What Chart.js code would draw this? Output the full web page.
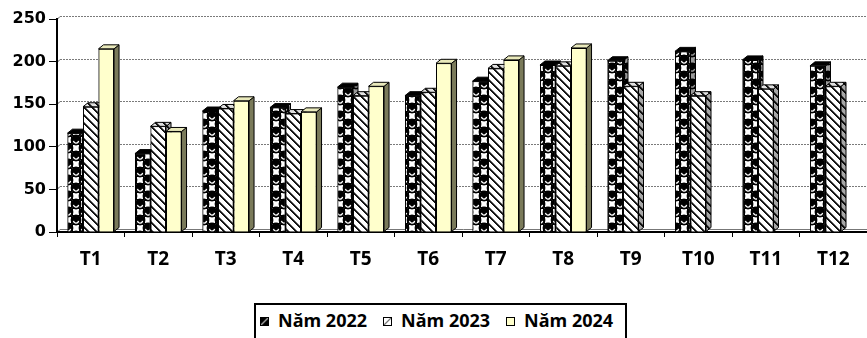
<!DOCTYPE html>
<html>
<head>
<meta charset="utf-8">
<script src="https://cdn.jsdelivr.net/npm/chart.js@4.4.1/dist/chart.umd.min.js"></script>
<style>
  html, body { margin: 0; padding: 0; background: #fff; overflow: hidden; }
  #wrap { position: relative; width: 867px; height: 338px; }
  #chart { position: absolute; left: 0; top: 0; }
  #legend {
    position: absolute; left: 254px; top: 303px; width: 373px; height: 60px;
    box-sizing: border-box; border: 2px solid #000; background: #fff;
    display: flex; align-items: flex-start; padding: 6px 0 0 4px;
    font: bold 18px "Open Sans", sans-serif; line-height: 19px; color: #000;
  }
  .item { display: flex; align-items: center; margin-right: 16px; white-space: nowrap; }
  .sw { width: 9px; height: 9px; box-sizing: border-box; border: 1px solid #000; margin-right: 9px; position: relative; top: 1px; }
  .sw22 { background: linear-gradient(135deg, #000 35%, #9a9a9a 50%, #000 65%); }
  .sw23 { background: linear-gradient(135deg, #fff 38%, #777 50%, #fff 62%); }
  .sw24 { background: #ffffcc; }
</style>
</head>
<body>
<div id="wrap">
  <canvas id="chart" width="867" height="338"></canvas>
  <div id="legend"></div>
</div>
<script>
// Monthly values (T1..T12) per year
const categories = ['T1', 'T2', 'T3', 'T4', 'T5', 'T6', 'T7', 'T8', 'T9', 'T10', 'T11', 'T12'];
const seriesNames = ['Năm 2022', 'Năm 2023', 'Năm 2024'];
const nam2022 = [116, 92, 142, 146, 170, 160, 177, 196, 201, 212, 202, 195];
const nam2023 = [147, 124, 145, 139, 160, 164, 192, 195, 171, 160, 168, 171];
const nam2024 = [215, 118, 154, 141, 171, 198, 202, 216, null, null, null, null];
const yTicks = [0, 50, 100, 150, 200, 250];

const YFONT = '"DejaVu Sans", sans-serif';
const XFONT = '"Open Sans", sans-serif';
const DX = 5, DY = 4; // depth offset of the column faces

// "sphere" fill: checker of black balls (with a white highlight) and white squares
function spherePattern() {
  const c = document.createElement('canvas');
  c.width = 16; c.height = 16;
  const g = c.getContext('2d');
  g.fillStyle = '#fff'; g.fillRect(0, 0, 16, 16);
  g.fillStyle = '#000';
  const centres = [[4, 4], [12, 12]];
  centres.forEach(([cx, cy]) => {
    for (let ox = -16; ox <= 16; ox += 16) {
      for (let oy = -16; oy <= 16; oy += 16) {
        g.beginPath(); g.arc(cx + ox, cy + oy, 5.4, 0, Math.PI * 2); g.fill();
      }
    }
  });
  g.strokeStyle = '#000'; g.lineWidth = 1;
  g.strokeRect(8.5, 0.5, 7, 7);
  g.strokeRect(0.5, 8.5, 7, 7);
  g.strokeStyle = '#fff'; g.lineWidth = 1.3;
  centres.forEach(([cx, cy]) => {
    g.beginPath(); g.arc(cx, cy + 0.5, 2.6, Math.PI * 0.05, Math.PI * 0.95); g.stroke();
  });
  return c;
}

// diagonal "\" stripes
function stripePattern() {
  const c = document.createElement('canvas');
  c.width = 8; c.height = 8;
  const g = c.getContext('2d');
  const img = g.createImageData(8, 8);
  for (let y = 0; y < 8; y++) {
    for (let x = 0; x < 8; x++) {
      const k = ((x - y) % 8 + 8) % 8;
      const v = (k === 0 || k === 1) ? 20 : (k === 2 ? 120 : 255);
      const p = (y * 8 + x) * 4;
      img.data[p] = img.data[p + 1] = img.data[p + 2] = v;
      img.data[p + 3] = 255;
    }
  }
  g.putImageData(img, 0, 0);
  return c;
}

const canvas = document.getElementById('chart');
const ctx = canvas.getContext('2d');
const fill2022 = ctx.createPattern(spherePattern(), 'repeat');
const fill2023 = ctx.createPattern(stripePattern(), 'repeat');
const fill2024 = '#ffffcc';

// face styles: [fill, shade overlay] for top and side
const faceStyles = [
  { top: ['#000', null], side: [fill2022, 'rgba(0,0,0,0.4)'] },
  { top: [fill2023, 'rgba(0,0,0,0.12)'], side: [fill2023, 'rgba(0,0,0,0.35)'] },
  { top: ['#e9e9bb', null], side: ['#7a7a5a', null] }
];

function paintFace(c, pts, style) {
  c.beginPath();
  c.moveTo(pts[0][0], pts[0][1]);
  for (let i = 1; i < pts.length; i++) c.lineTo(pts[i][0], pts[i][1]);
  c.closePath();
  c.fillStyle = style[0]; c.fill();
  if (style[1]) { c.fillStyle = style[1]; c.fill(); }
  c.lineWidth = 1; c.strokeStyle = '#000'; c.stroke();
}

// back wall gridlines and floor edge, drawn behind everything else
const backWall = {
  id: 'backWall',
  beforeDraw(chart) {
    const c = chart.ctx, y = chart.scales.y, area = chart.chartArea;
    if (!y || !area) return;
    c.save();
    yTicks.forEach(v => {
      const yf = Math.round(y.getPixelForValue(v)) + 0.5;
      const yb = yf - 3;
      c.setLineDash([]);
      c.strokeStyle = '#555'; c.lineWidth = 1;
      c.beginPath(); c.moveTo(area.left, yf); c.lineTo(area.left + 3, yb); c.stroke();
      if (v === 0) {
        c.strokeStyle = '#777';
        c.beginPath(); c.moveTo(area.left + 3, yb); c.lineTo(chart.width, yb); c.stroke();
      } else {
        c.strokeStyle = '#7a7a7a';
        c.setLineDash([2, 1]);
        c.beginPath(); c.moveTo(area.left + 3, yb); c.lineTo(chart.width, yb); c.stroke();
      }
    });
    c.restore();
  }
};

// side and top faces of every column, painted left to right
const columnFaces = {
  id: 'columnFaces',
  afterDatasetsDraw(chart) {
    const c = chart.ctx;
    c.save();
    for (let i = 0; i < categories.length; i++) {
      chart.data.datasets.forEach((ds, d) => {
        if (ds.data[i] == null) return;
        const bar = chart.getDatasetMeta(d).data[i];
        bar.draw(c);
        const { x, y, base, width } = bar.getProps(['x', 'y', 'base', 'width'], true);
        const L = x - width / 2, R = x + width / 2;
        paintFace(c, [[R, y], [R + DX, y - DY], [R + DX, base - DY], [R, base]], faceStyles[d].side);
        paintFace(c, [[L, y], [R, y], [R + DX, y - DY], [L + DX, y - DY]], faceStyles[d].top);
      });
    }
    c.restore();
  }
};

const barCommon = { borderColor: '#000', borderWidth: 1, categoryPercentage: 0.69, barPercentage: 1 };

new Chart(canvas, {
  type: 'bar',
  data: {
    labels: categories,
    datasets: [
      Object.assign({ label: seriesNames[0], data: nam2022, backgroundColor: fill2022 }, barCommon),
      Object.assign({ label: seriesNames[1], data: nam2023, backgroundColor: fill2023 }, barCommon),
      Object.assign({ label: seriesNames[2], data: nam2024, backgroundColor: fill2024 }, barCommon)
    ]
  },
  options: {
    responsive: false,
    animation: false,
    devicePixelRatio: 1,
    layout: { padding: { top: 19, right: -7, left: 0, bottom: 0 } },
    plugins: { legend: { display: false }, tooltip: { enabled: false } },
    scales: {
      x: {
        grid: { display: true, drawOnChartArea: false, drawTicks: true, tickLength: 5, tickColor: '#000', tickWidth: 1, offset: true },
        border: { display: true, color: '#000', width: 2 },
        ticks: { color: '#000', font: { family: XFONT, size: 19, weight: 'bold' }, padding: 11, maxRotation: 0, autoSkip: false },
        afterFit(scale) { scale.height = 106; }
      },
      y: {
        min: 0, max: 250,
        grid: { display: true, drawOnChartArea: false, drawTicks: true, tickLength: 8, tickColor: '#000', tickWidth: 1 },
        border: { display: true, color: '#000', width: 2 },
        ticks: { stepSize: 50, color: '#000', font: { family: YFONT, size: 16, weight: 'bold' }, padding: 3,
                 callback: v => yTicks.includes(v) ? String(v) : '' },
        afterFit(scale) { scale.width = 57; }
      }
    }
  },
  plugins: [backWall, columnFaces]
});

// legend
const legend = document.getElementById('legend');
['sw22', 'sw23', 'sw24'].forEach((cls, k) => {
  const item = document.createElement('div');
  item.className = 'item';
  const sw = document.createElement('span');
  sw.className = 'sw ' + cls;
  const tx = document.createElement('span');
  tx.textContent = seriesNames[k];
  item.appendChild(sw); item.appendChild(tx);
  legend.appendChild(item);
});
</script>
</body>
</html>
